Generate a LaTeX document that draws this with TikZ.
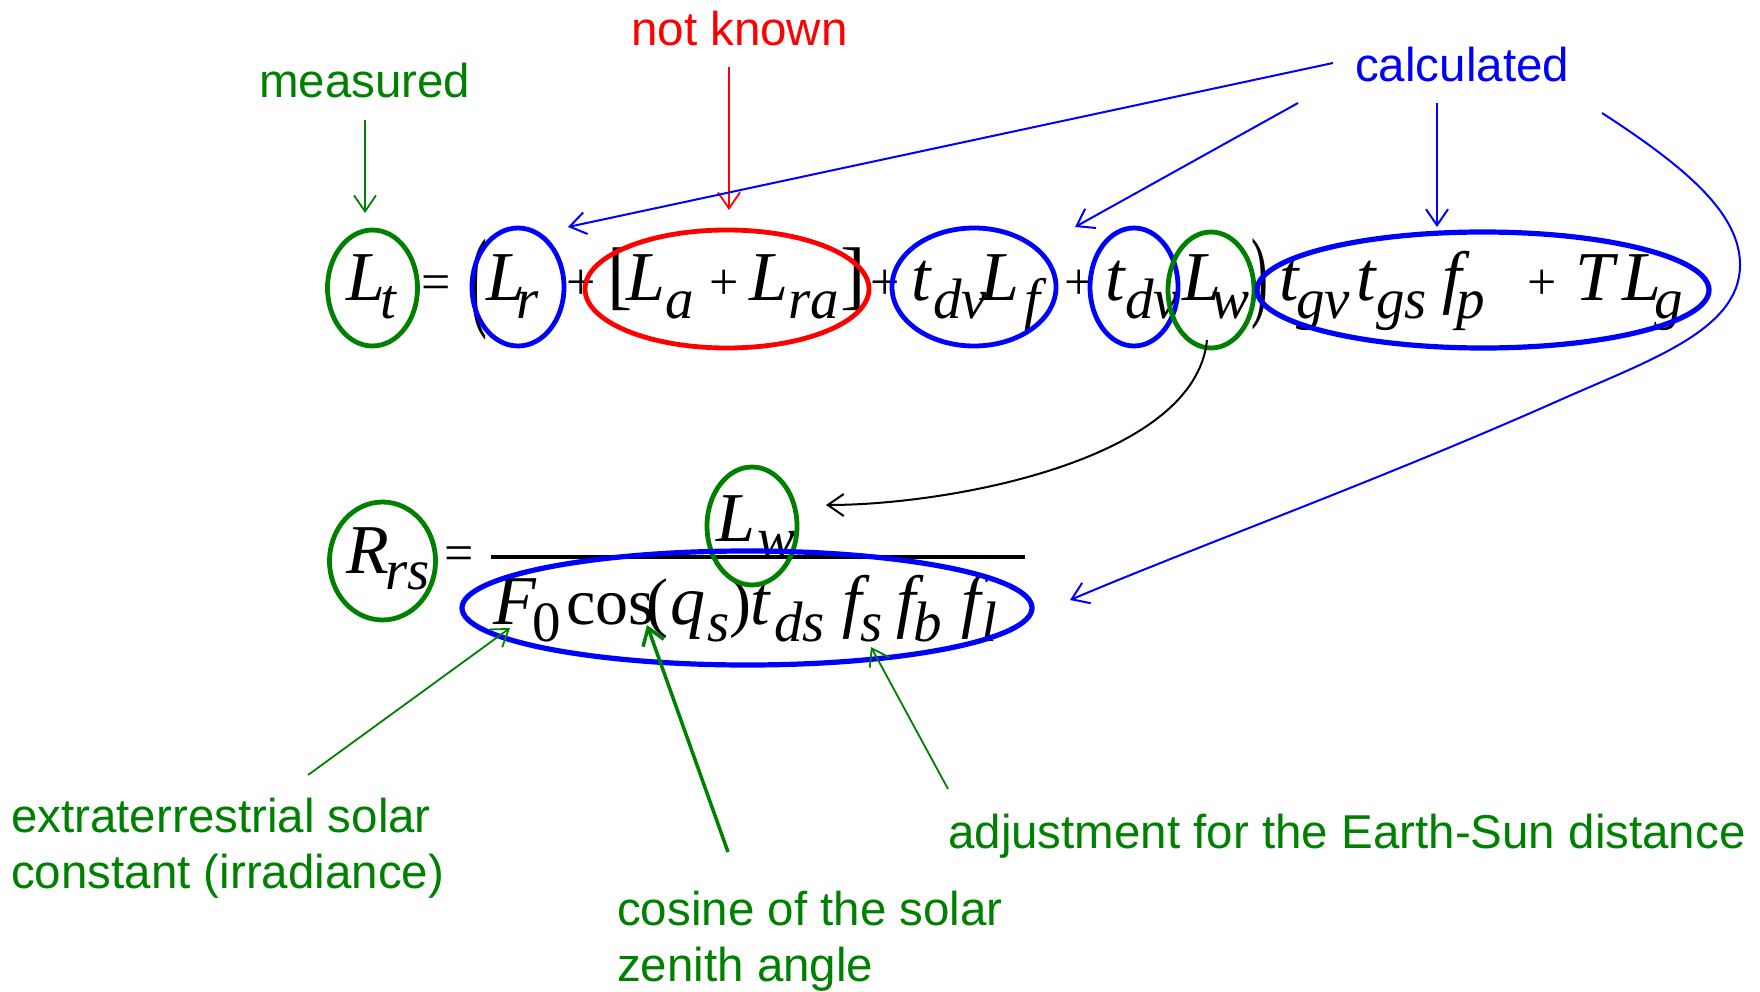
\documentclass[tikz,border=0pt]{standalone}
\usepackage{fontspec}
\setmainfont{Liberation Sans}
\newfontfamily\tms{Liberation Serif}
\usetikzlibrary{shapes.geometric,arrows.meta}
\definecolor{mgreen}{RGB}{0,128,0}
\definecolor{mblue}{RGB}{0,0,255}
\definecolor{mred}{RGB}{255,0,0}
\newcommand\fMI{\tms\fontsize{70}{70}\selectfont\itshape}
\newcommand\fSI{\tms\fontsize{57}{57}\selectfont\itshape}
\newcommand\fMU{\tms\fontsize{66}{66}\selectfont}
\newcommand\fSU{\tms\fontsize{57}{57}\selectfont}
\newcommand\fOP{\tms\fontsize{52}{52}\selectfont}
\newcommand\fBR{\tms\fontsize{76}{76}\selectfont}
\newcommand\fPA{\tms\fontsize{112}{112}\selectfont}
\newcommand\fLB{\fontsize{47.5}{56}\selectfont}
\begin{document}
\begin{tikzpicture}[x=1pt,y=-1pt,
 mi/.style={anchor=base west,inner sep=0pt,outer sep=0pt,font=\fMI},
 si/.style={mi,font=\fSI},
 mu/.style={mi,font=\fMU},
 su/.style={mi,font=\fSU},
 op/.style={mi,font=\fOP},
 br/.style={mi,font=\fBR},
 pa/.style={mi,font=\fPA},
 lbl/.style={anchor=base west,inner sep=0pt,font=\fLB,align=left},
 ell/.style 2 args={ellipse,draw,line width=4.8pt,inner sep=0pt,minimum width=#1,minimum height=#2},
 arr/.style={line width=1.8pt,-{Straight Barb[length=16pt,width=22pt]}},
]
\useasboundingbox (0,0) rectangle (1760,992);

% ---------- top equation ----------
\node[mi] (a1) at (346,300) {L};
\node[si] (a2) at (380,318) {t};
\node[op] (a3) at (421,299) {=};
\node[pa] (a4) at (470,316) {\scalebox{0.45}[1]{(}};
\node[mi] (a5) at (486,300) {L};
\node[si] (a6) at (516,318) {r};
\node[op] (a7) at (566,299) {+};
\node[br] (a8) at (607,300) {[};
\node[mi] (a9) at (626,300) {L};
\node[si] (a10) at (665,318) {a};
\node[op] (a11) at (709,299) {+};
\node[mi] (a12) at (749,300) {L};
\node[si] (a13) at (788,318) {ra};
\node[br] (a14) at (840,300) {]};
\node[op] (a15) at (870,299) {+};
\node[mi] (a16) at (911,300) {t};
\node[si] (a17) at (933,318) {dv};
\node[mi] (a18) at (980,300) {L};
\node[si] (a19) at (1024,318) {f};
\node[op] (a20) at (1064,299) {+};
\node[mi] (a21) at (1105,300) {t};
\node[si] (a22) at (1125,318) {dv};
\node[mi] (a23) at (1182,300) {L};
\node[si] (a24) at (1211,318) {w};
\node[pa] (a25) at (1251,308) {\scalebox{0.45}[0.9]{)}};
\node[mi] (a26) at (1279,300) {t};
\node[si] (a27) at (1296,318) {gv};
\node[mi] (a28) at (1356,300) {t};
\node[si] (a29) at (1376,318) {gs};
\node[mi] (a30) at (1442,300) {f};
\node[si] (a31) at (1456,318) {p};
\node[op] (a32) at (1527,299) {+};
\node[mi] (a33) at (1575,300) {T};
\node[mi] (a34) at (1622,300) {L};
\node[si] (a35) at (1654,318) {g};

% ---------- bottom equation ----------
\node[mi] (b1) at (346,573) {R};
\node[si] (b2) at (385,589) {rs};
\node[op] (b3) at (444,570) {=};
\node[mi] (b4) at (716,541) {L};
\node[si] (b5) at (757,557) {w};
\coordinate (fbL) at (491,557);
\coordinate (fbR) at (1025,557);
\draw[line width=3.5pt] (fbL) -- (fbR);
\node[mi] (c1) at (493,624) {F};
\node[su] (c2) at (532,641) {0};
\node[mu] (c3) at (566,624) {cos};
\node[mu] (c4) at (646,624) {(};
\node[mi] (c5) at (670,624) {q};
\node[si] (c6) at (707,641) {s};
\node[mu] (c7) at (729,624) {)};
\node[mi] (c8) at (750,624) {t};
\node[si] (c9) at (774,641) {ds};
\node[mi] (c10) at (842,624) {f};
\node[si] (c11) at (860,641) {s};
\node[mi] (c12) at (896,624) {f};
\node[si] (c13) at (913,641) {b};
\node[mi] (c14) at (961,624) {f};
\node[si] (c15) at (981,641) {l};

% ---------- ellipses ----------
\node[ell={90pt}{116pt},draw=mgreen] (eLt) at (372.5,288) {};
\node[ell={92pt}{118pt},draw=mblue] (eLr) at (518,287) {};
\node[ell={284pt}{118pt},draw=mred] (eRed) at (727,289) {};
\node[ell={164pt}{118pt},draw=mblue] (eLf) at (974,287) {};
\node[ell={88pt}{118pt},draw=mblue] (eTdv) at (1134,287) {};
\node[ell={86pt}{116pt},draw=mgreen] (eLw) at (1211,290) {};
\node[ell={452pt}{116pt},draw=mblue,line width=5.2pt] (eBig) at (1483,290) {};
\node[ell={106pt}{118pt},draw=mgreen] (eRrs) at (382.5,561) {};
\node[ell={90pt}{118pt},draw=mgreen] (eLw2) at (752,526) {};
\node[ell={570pt}{114pt},draw=mblue,line width=5.2pt] (eDen) at (747,608) {};

% ---------- labels ----------
\node[lbl,text=mgreen] (measured) at (259,98) {measured};
\node[lbl,text=mred] (notknown) at (631,46) {not known};
\node[lbl,text=mblue] (calc) at (1355,82) {calculated};
\node[lbl,text=mgreen] (ext) at (11,888) {extraterrestrial solar\\constant (irradiance)};
\node[lbl,text=mgreen] (cosl) at (617,981) {cosine of the solar\\zenith angle};
\node[lbl,text=mgreen] (adj) at (948,848) {adjustment for the Earth-Sun distance};

% ---------- connector ends ----------
\coordinate (mS) at (365,120);  \coordinate (mE) at (365,213);
\coordinate (nS) at (729,67);   \coordinate (nE) at (729,210);
\coordinate (k1S) at (1333,63); \coordinate (k1E) at (568,227);
\coordinate (k2S) at (1298,103);\coordinate (k2E) at (1075,227);
\coordinate (k3S) at (1437,103);\coordinate (k3E) at (1437,227);
\coordinate (k4S) at (1602,113);\coordinate (k4A) at (1740,265);
\coordinate (k4B) at (1560,400);\coordinate (k4E) at (1070,600);
\coordinate (wS) at (1207,340); \coordinate (wE) at (826,505);
\coordinate (g1S) at (308,775); \coordinate (g1E) at (510,628);
\coordinate (g2S) at (728,852); \coordinate (g2E) at (647,625);
\coordinate (g3S) at (948,789); \coordinate (g3E) at (871,647);

% ---------- connectors ----------
\draw[arr,mgreen] (mS) -- (mE);
\draw[arr,mred] (nS) -- (nE);
\draw[arr,mblue,line width=2pt] (k1S) -- (k1E);
\draw[arr,mblue,line width=2pt] (k2S) -- (k2E);
\draw[arr,mblue,line width=2pt] (k3S) -- (k3E);
\draw[arr,mblue,line width=2pt] (k4S) .. controls (1690,170) and (1740,215) .. (k4A)
   .. controls (1740,330) and (1650,360) .. (k4B)
   .. controls (1380,480) and (1200,545) .. (k4E);
\draw[arr,black,line width=2pt] (wS) .. controls (1195,460) and (950,505) .. (wE);
\draw[arr,mgreen] (g1S) -- (g1E);
\draw[arr,mgreen,line width=3.5pt] (g2S) -- (g2E);
\draw[arr,mgreen] (g3S) -- (g3E);
\end{tikzpicture}
\end{document}
